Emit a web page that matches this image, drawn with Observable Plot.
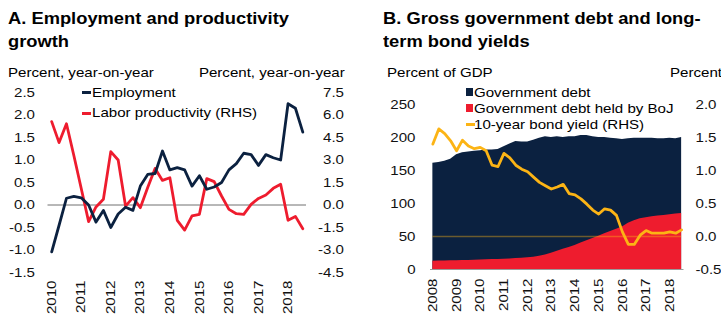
<!DOCTYPE html>
<html><head><meta charset="utf-8">
<script src="https://cdn.jsdelivr.net/npm/d3@7"></script>
<script src="https://cdn.jsdelivr.net/npm/@observablehq/plot@0.6"></script>
<style>
body{margin:0;background:#fff;}
#wrap{position:relative;width:721px;height:315px;overflow:hidden;font-family:"Liberation Sans",Arial,sans-serif;color:#000;}
.t{position:absolute;white-space:nowrap;}
.title{font-weight:bold;font-size:16px;line-height:23px;transform:scaleX(1.145);transform-origin:left top;}
.lab{font-size:13px;line-height:13px;transform:scaleX(1.16);transform-origin:left top;}
.lab.r{transform-origin:right top;text-align:right;}
.sw{position:absolute;}
.panel{position:absolute;top:0;}
</style></head>
<body>
<div id="wrap">
  <div class="panel" id="pa" style="left:0"></div>
  <div class="panel" id="pb" style="left:360px"></div>

  <div class="t title" style="left:8px;top:7px">A. Employment and productivity<br>growth</div>
  <div class="t title" style="left:383.3px;top:7px">B. Gross government debt and long-<br>term bond yields</div>

  <div class="t lab" style="left:8.3px;top:66px">Percent, year-on-year</div>
  <div class="t lab r" style="right:376px;top:66px">Percent, year-on-year</div>
  <div class="t lab" style="left:386.7px;top:66px">Percent of GDP</div>
  <div class="t lab" style="left:670px;top:66px">Percent</div>

  <div class="sw" style="left:81.7px;top:91.2px;width:9px;height:3px;background:#0b2140"></div>
  <div class="t lab" style="left:91.7px;top:85.7px">Employment</div>
  <div class="sw" style="left:81.7px;top:111.8px;width:9px;height:3px;background:#ee1c2e"></div>
  <div class="t lab" style="left:91.7px;top:106.3px">Labor productivity (RHS)</div>

  <div class="sw" style="left:466px;top:88.3px;width:7.3px;height:7.3px;background:#0b2140"></div>
  <div class="t lab" style="left:474.3px;top:85.7px">Government debt</div>
  <div class="sw" style="left:466px;top:104.3px;width:7.3px;height:7.3px;background:#ee1c2e"></div>
  <div class="t lab" style="left:474.3px;top:102.3px">Government debt held by BoJ</div>
  <div class="sw" style="left:466px;top:122.8px;width:9px;height:3px;background:#fcb415"></div>
  <div class="t lab" style="left:474.3px;top:118.3px">10-year bond yield (RHS)</div>
</div>
<script>
// ---------- Panel A data (quarterly, 2010Q1 - 2018Q3) ----------
const startYearA = 2010;
const employment = [-1.04,-0.45,0.15,0.19,0.16,0.0,-0.38,-0.12,-0.5,-0.2,-0.05,-0.12,0.42,0.68,0.7,1.2,0.78,0.83,0.78,0.42,0.65,0.35,0.4,0.5,0.78,0.92,1.15,1.12,0.88,1.12,1.05,1.0,2.25,2.15,1.62];
const laborProductivity = [5.56,4.16,5.42,3.3,1.1,-1.11,-0.13,0.38,3.56,3.0,-0.07,0.49,-0.18,1.16,2.44,1.64,1.82,-1.02,-1.67,-0.73,-0.62,1.76,1.56,0.6,-0.29,-0.58,-0.62,0.04,0.44,0.67,1.11,1.38,-1.02,-0.76,-1.58];
const yearsA = [2010,2011,2012,2013,2014,2015,2016,2017,2018];
const leftTicksA = [-1.5,-1.0,-0.5,0.0,0.5,1.0,1.5,2.0,2.5];
const rightTicksA = [-4.5,-3.0,-1.5,0.0,1.5,3.0,4.5,6.0,7.5];

// ---------- Panel B data (quarterly, 2008Q1 - 2018Q3) ----------
const startYearB = 2008;
const govDebt = [161,162,164,167,174,177,178,179,180,181,181,182,186,190,194,193,193,196,199,201,200,201,200,201,201,203,203,201,200,200,199,198,197,198,199,199,199,199,198,198,199,198,200];
const bojHoldings = [12.6,12.8,13,13.2,13.4,13.6,13.8,14,14.3,14.6,15,15.3,15.6,16,16.5,17,17.7,18.5,20,22,24.5,27.5,30.5,33.5,36.5,40,43.5,47,50.5,54,57.5,61,64.5,70,74,77,78.5,80,81,82,83,84,85];
const bondYield = [1.40,1.63,1.56,1.45,1.30,1.46,1.37,1.33,1.35,1.30,1.08,1.06,1.26,1.19,1.08,1.02,0.98,0.90,0.82,0.77,0.72,0.75,0.79,0.65,0.63,0.57,0.49,0.40,0.34,0.42,0.40,0.32,0.07,-0.12,-0.12,0.02,0.09,0.05,0.05,0.05,0.07,0.05,0.10];
const yearsB = [2008,2009,2010,2011,2012,2013,2014,2015,2016,2017,2018];
const leftTicksB = [0,50,100,150,200,250];
const rightTicksB = [-0.5,0.0,0.5,1.0,1.5,2.0];

const NAVY = "#0b2140", RED = "#ee1c2e", YEL = "#fcb415";
const FONT = {fontFamily: "'Liberation Sans', Arial, sans-serif", fontSize: "13px", color: "#111", background: "transparent", overflow: "visible"};

// Panel A
const rowsA = employment.map((v, i) => ({t: startYearA + i / 4, emp: v, prod: laborProductivity[i]}));
const ratioA = 3; // RHS = 3 x LHS
const plotA = Plot.plot({
  width: 360, height: 315,
  marginLeft: 47.5, marginRight: 54, marginTop: 92, marginBottom: 43,
  style: FONT,
  x: {domain: [2009.875, 2018.625]},
  y: {domain: [-1.5, 2.5]},
  marks: [
    Plot.ruleY([0], {stroke: "#707070", strokeWidth: 1}),
    Plot.line(rowsA, {x: "t", y: d => d.prod / ratioA, stroke: RED, strokeWidth: 2.8}),
    Plot.line(rowsA, {x: "t", y: "emp", stroke: NAVY, strokeWidth: 2.8}),
    Plot.axisY(leftTicksA, {anchor: "left", tickSize: 0, tickPadding: 13, tickFormat: d => d.toFixed(1), label: null}),
    Plot.axisY(rightTicksA.map(v => v / ratioA), {anchor: "right", tickSize: 0, tickPadding: 37.5, textAnchor: "end", tickFormat: d => (d * ratioA).toFixed(1), label: null}),
    Plot.axisX(yearsA, {anchor: "bottom", tickSize: 0, tickPadding: 8, tickRotate: -90, tickFormat: d => String(d), label: null})
  ]
});
document.getElementById("pa").appendChild(plotA);

// Panel B
const toLeft = v => (v + 0.5) * 100; // RHS yield -> LHS scale
const rowsB = govDebt.map((v, i) => ({t: startYearB + i / 4, debt: v, boj: bojHoldings[i], yld: bondYield[i]}));
const plotB = Plot.plot({
  width: 361, height: 315,
  marginLeft: 70, marginRight: 37.5, marginTop: 104, marginBottom: 46,
  style: FONT,
  x: {domain: [2007.9, 2018.6]},
  y: {domain: [0, 250]},
  marks: [
    Plot.areaY(rowsB, {x: "t", y: "debt", fill: NAVY}),
    Plot.areaY(rowsB, {x: "t", y: "boj", fill: RED}),
    Plot.ruleY([toLeft(0)], {x1: rowsB[0].t, x2: rowsB[rowsB.length - 1].t, stroke: YEL, strokeOpacity: 0.4, strokeWidth: 1.3}),
    Plot.line(rowsB, {x: "t", y: d => toLeft(d.yld), stroke: YEL, strokeWidth: 2.8}),
    Plot.ruleY([0], {stroke: "#9a9a9a", strokeWidth: 1}),
    Plot.axisY(leftTicksB, {anchor: "left", tickSize: 0, tickPadding: 15, tickFormat: d => String(d), label: null}),
    Plot.axisY(rightTicksB.map(toLeft), {anchor: "right", tickSize: 0, tickPadding: 11.5, tickFormat: d => (d / 100 - 0.5).toFixed(1), label: null}),
    Plot.axisX(yearsB, {anchor: "bottom", tickSize: 0, tickPadding: 9, tickRotate: -90, tickFormat: d => String(d), label: null})
  ]
});
document.getElementById("pb").appendChild(plotB);

// widen glyphs along the text direction, like the reference rendering
document.querySelectorAll("#wrap svg text").forEach(t => {
  const L = t.getComputedTextLength();
  if (L > 0) { t.setAttribute("textLength", (L * 1.16).toFixed(2)); t.setAttribute("lengthAdjust", "spacingAndGlyphs"); }
});
</script>
</body></html>
